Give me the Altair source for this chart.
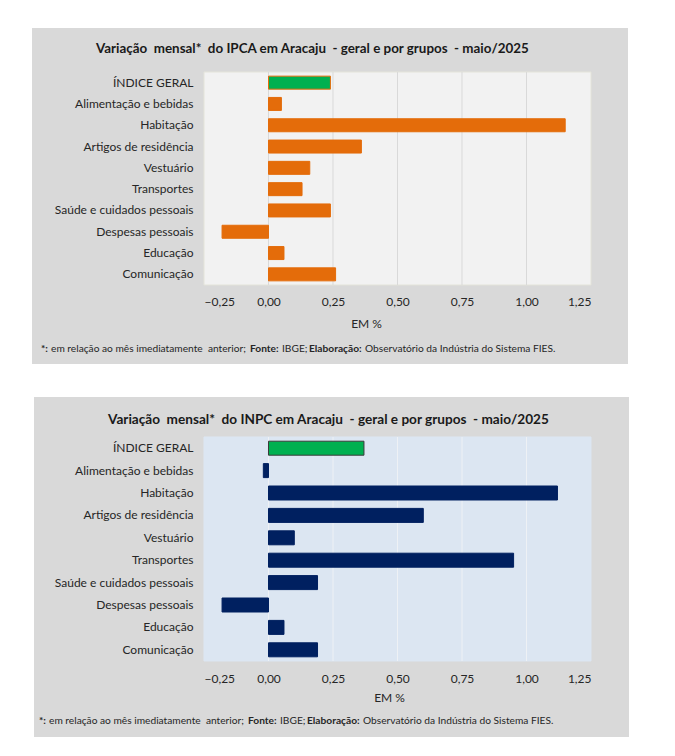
import altair as alt
import pandas as pd

# ---------------- data ----------------
categorias = [
    "ÍNDICE GERAL", "Alimentação e bebidas", "Habitação", "Artigos de residência",
    "Vestuário", "Transportes", "Saúde e cuidados pessoais", "Despesas pessoais",
    "Educação", "Comunicação",
]
ipca = [0.24, 0.05, 1.15, 0.36, 0.16, 0.13, 0.24, -0.18, 0.06, 0.26]
inpc = [0.37, -0.02, 1.12, 0.60, 0.10, 0.95, 0.19, -0.18, 0.06, 0.19]
marcas_x = [-0.25, 0.0, 0.25, 0.50, 0.75, 1.00, 1.25]
titulo_ipca = "Variação\u00a0 mensal*\u00a0 do IPCA em Aracaju\u00a0 - geral e por grupos\u00a0 - maio/2025"
titulo_inpc = "Variação\u00a0 mensal*\u00a0 do INPC em Aracaju\u00a0 - geral e por grupos\u00a0 - maio/2025"
rotulo_x = "EM %"
nota_textos = ["*:", "em relação ao mês imediatamente\u00a0 anterior;", "Fonte:", "IBGE;",
               "Elaboração:", "Observatório da Indústria do Sistema FIES."]
nota_negrito = [True, False, True, False, True, False]

FONT = "Lato"
DARK = "#262626"
destaque = "ÍNDICE GERAL"


def painel(valores, titulo, titulo_size, w, h, caixa, titulo_pos, nota_pos, nota_xs,
           area_fill, area_stroke, grid_color, bar_color, green_stroke, bar_size,
           label_pad, eixo_titulo_xy):
    df = pd.DataFrame({"categoria": categorias, "valor": valores})
    um = pd.DataFrame({"k": [0]})
    grade = pd.DataFrame({"valor": marcas_x[1:-1]})

    x_enc = alt.X(
        "valor:Q",
        scale=alt.Scale(domain=[marcas_x[0], marcas_x[-1]], nice=False, zero=False),
        axis=alt.Axis(
            values=marcas_x, grid=False, domain=False, ticks=False,
            labelPadding=label_pad, labelFont=FONT, labelFontSize=12, labelColor=DARK,
            labelExpr="replace(format(datum.value, '.2f'), '.', ',')",
            title=rotulo_x, titleFont=FONT, titleFontSize=12, titleFontWeight="normal",
            titleColor=DARK, titleX=eixo_titulo_xy[0], titleY=eixo_titulo_xy[1],
            titleBaseline="middle", titleAlign="center", zindex=1,
        ),
    )

    fundo = alt.Chart(um).mark_rect(color="#D9D9D9").encode(
        x=alt.value(caixa[0]), x2=alt.value(caixa[1]),
        y=alt.value(caixa[2]), y2=alt.value(caixa[3]),
    )
    area = alt.Chart(um).mark_rect(fill=area_fill, stroke=area_stroke, strokeWidth=1).encode(
        x=alt.value(0), x2=alt.value(w), y=alt.value(0), y2=alt.value(h),
    )
    linhas = alt.Chart(grade).mark_rule(color=grid_color, strokeWidth=1).encode(x=x_enc)

    barras = alt.Chart(df).mark_bar(size=bar_size, strokeWidth=1).encode(
        x=x_enc,
        y=alt.Y(
            "categoria:N", sort=categorias,
            axis=alt.Axis(
                title=None, domain=False, ticks=False, labelPadding=11,
                labelFont=FONT, labelFontSize=12, labelColor=DARK, zindex=1,
            ),
        ),
        color=alt.condition(alt.datum.categoria == destaque, alt.value("#00B050"), alt.value(bar_color)),
        stroke=alt.condition(alt.datum.categoria == destaque, alt.value(green_stroke), alt.value(bar_color)),
    )

    tit = alt.Chart(um).mark_text(
        font=FONT, fontSize=titulo_size, fontWeight="bold", color="#1A1A1A",
        align="left", baseline="middle"
    ).encode(x=alt.value(titulo_pos[0]), y=alt.value(titulo_pos[1]), text=alt.value(titulo))

    notas = []
    for txt, bold, xx in zip(nota_textos, nota_negrito, nota_xs):
        notas.append(
            alt.Chart(um).mark_text(
                font=FONT, fontSize=10.2, fontWeight="bold" if bold else "normal",
                color=DARK, align="left", baseline="middle",
            ).encode(x=alt.value(xx), y=alt.value(nota_pos), text=alt.value(txt))
        )

    return alt.layer(fundo, area, linhas, barras, tit, *notas).properties(width=w, height=h)


# footnote pieces (page x) of the top panel
top_nota_x = [41, 51, 250, 282, 309, 365]

# top panel: plot area at page (204, 72), 387 x 213
topo = painel(
    ipca, titulo_ipca, 13.4, 387, 213,
    caixa=(-172, 424, -44, 292), titulo_pos=(-108, -23),
    nota_pos=277, nota_xs=[v - 204 for v in top_nota_x],
    area_fill="#F2F2F2", area_stroke="#E4E4DA", grid_color="#D9D9D9",
    bar_color="#E46C0A", green_stroke="#E46C0A", bar_size=13,
    label_pad=11, eixo_titulo_xy=(162, 38),
)

# bottom panel: plot area at page (202, 437), 387 x 224
bot_nota_x = [v - 4 for v in top_nota_x]
base = painel(
    inpc, titulo_inpc, 13.6, 387, 224,
    caixa=(-170, 425, -40, 300), titulo_pos=(-96, -17),
    nota_pos=284, nota_xs=[v - 202 for v in bot_nota_x],
    area_fill="#DCE6F2", area_stroke="#DCE6F2", grid_color="#EEF1F5",
    bar_color="#002060", green_stroke="#3A3A3A", bar_size=14,
    label_pad=12, eixo_titulo_xy=(185, 36),
)

chart = alt.vconcat(topo, base, spacing=33).properties(
    padding={"left": 24, "top": 20, "right": 5, "bottom": 5}
).configure(background="white").configure_view(strokeWidth=0)

chart.save("out.html", embed_options={"renderer": "svg", "actions": False})
